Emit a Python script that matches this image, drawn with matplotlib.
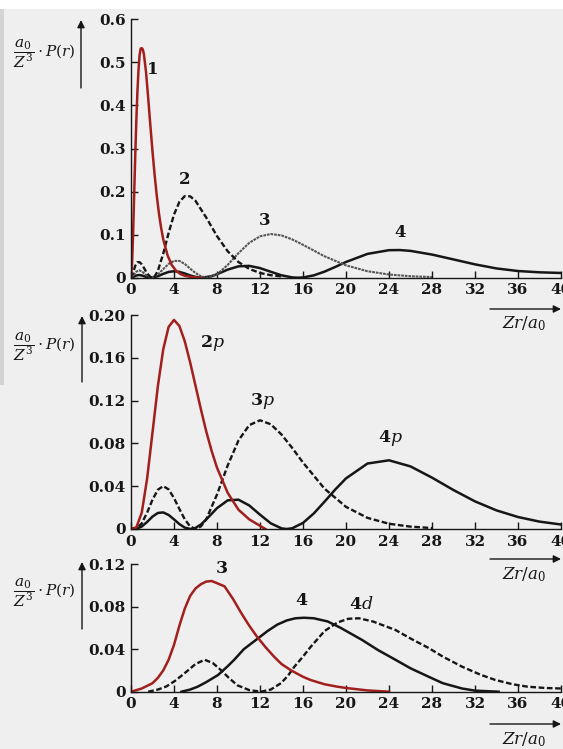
import matplotlib
matplotlib.use("Agg")
import matplotlib.pyplot as plt
from matplotlib.patches import Rectangle

plt.rcParams['font.family'] = ['DejaVu Serif']
plt.rcParams['mathtext.fontset'] = 'dejavuserif'

# ---- data (Zr/a0, a0/Z^3 * P(r)) ----
x_ticks = [0, 4, 8, 12, 16, 20, 24, 28, 32, 36, 40]

# top panel: s states
r_1s = [0, 0.1, 0.2, 0.3, 0.4, 0.5, 0.6, 0.7, 0.8, 0.9, 1.0, 1.1, 1.2, 1.4, 1.6, 1.8,
        2.0, 2.2, 2.4, 2.6, 2.8, 3.0, 3.4, 3.8, 4.2, 4.6, 5.0, 5.6, 6.5]
p_1s = [0, 0.033, 0.107, 0.198, 0.288, 0.368, 0.434, 0.483, 0.517, 0.532, 0.533, 0.530,
        0.519, 0.477, 0.417, 0.354, 0.293, 0.238, 0.190, 0.149, 0.116, 0.089, 0.052,
        0.029, 0.016, 0.0085, 0.0045, 0.0017, 0.0]

r_2s = [0, 0.2, 0.4, 0.6, 0.8, 1.0, 1.2, 1.4, 1.6, 1.8, 2.0, 2.2, 2.5, 3.0, 3.5, 4.0,
        4.5, 5.0, 5.5, 6.0, 7.0, 8.0, 9.0, 10, 11, 12, 13, 14]
p_2s = [0, 0.012, 0.028, 0.036, 0.036, 0.031, 0.023, 0.014, 0.007, 0.002, 0, 0.0027,
        0.016, 0.056, 0.104, 0.1465, 0.176, 0.1895, 0.189, 0.1785, 0.1396, 0.0966,
        0.0612, 0.0363, 0.0205, 0.011, 0.0058, 0.0029]

r_3s = [0, 0.25, 0.5, 0.75, 1.0, 1.25, 1.5, 1.9, 2.5, 3.0, 3.5, 4.0, 4.5, 5.0, 5.5, 6.0,
        6.5, 7.1, 8, 9, 10, 11, 12, 13, 14, 15, 16, 18, 20, 22, 24, 26, 28]
p_3s = [0, 0.006, 0.014, 0.017, 0.015, 0.0095, 0.004, 0, 0.0073, 0.020, 0.032, 0.039,
        0.039, 0.032, 0.021, 0.011, 0.0034, 0, 0.0076, 0.0298, 0.0571, 0.0809, 0.0961,
        0.1014, 0.0982, 0.0889, 0.0764, 0.0498, 0.0287, 0.015, 0.0074, 0.0034, 0.0015]

r_4s = [0, 0.25, 0.5, 0.75, 1.0, 1.25, 1.5, 1.87, 2.5, 3.0, 3.5, 4.0, 4.5, 5.0, 5.5, 6.0,
        6.6, 7.5, 8, 9, 10, 11, 12, 13, 14, 15, 15.5, 16, 17, 18, 19, 20, 22, 24, 25, 26,
        28, 30, 32, 34, 36, 38, 40]
p_4s = [0, 0.0023, 0.0052, 0.0062, 0.0052, 0.0032, 0.0013, 0, 0.0034, 0.0089, 0.0134,
        0.015, 0.0135, 0.0098, 0.0053, 0.0018, 0, 0.0036, 0.0081, 0.0188, 0.0264, 0.0275,
        0.0223, 0.0138, 0.0056, 0.0007, 0, 0.0006, 0.0054, 0.0141, 0.025, 0.0365, 0.0553,
        0.0639, 0.0642, 0.0623, 0.0537, 0.0424, 0.031, 0.0215, 0.0155, 0.0125, 0.011]

# middle panel: p states
r_2p = [0, 0.5, 1, 1.5, 2, 2.5, 3, 3.5, 4, 4.5, 5, 5.5, 6, 6.5, 7, 7.5, 8, 9, 10, 11, 12, 12.5]
p_2p = [0, 0.0016, 0.0153, 0.0471, 0.0902, 0.1336, 0.168, 0.1889, 0.1954, 0.1898, 0.1755,
        0.1558, 0.1339, 0.112, 0.0912, 0.073, 0.0573, 0.0337, 0.0180, 0.009, 0.003, 0.0]

r_3p = [0, 0.5, 1, 1.5, 2, 2.5, 3, 3.5, 4, 4.5, 5, 5.5, 6, 6.5, 7, 8, 9, 10, 11, 12, 13,
        14, 15, 16, 18, 20, 22, 24, 26, 28]
p_3p = [0, 0.0006, 0.0052, 0.0153, 0.0274, 0.0367, 0.0401, 0.037, 0.0289, 0.0187, 0.0091,
        0.0024, 0, 0.0024, 0.0092, 0.0322, 0.0595, 0.0828, 0.0971, 0.1016, 0.0979, 0.0883,
        0.0757, 0.0621, 0.0377, 0.0207, 0.0104, 0.0049, 0.0022, 0.0009]

r_4p = [0, 0.5, 1, 1.5, 2, 2.5, 3, 3.5, 4, 4.5, 5, 5.53, 6, 6.5, 7, 8, 9, 10, 11, 12, 13,
        14, 14.47, 15, 16, 17, 18, 19, 20, 22, 24, 26, 28, 30, 32, 34, 36, 38, 40]
p_4p = [0, 0.0002, 0.0023, 0.0066, 0.0116, 0.015, 0.0155, 0.0131, 0.009, 0.0046, 0.0013,
        0, 0.001, 0.0042, 0.0089, 0.0195, 0.0268, 0.0274, 0.022, 0.0134, 0.0053, 0.0006,
        0, 0.0007, 0.0057, 0.0145, 0.0255, 0.0369, 0.0473, 0.0612, 0.0642, 0.0585, 0.048,
        0.0364, 0.0258, 0.0174, 0.0112, 0.0069, 0.0042]

# bottom panel: d / f states
r_3d = [0, 1, 2, 2.5, 3, 3.5, 4, 4.5, 5, 5.5, 6, 6.5, 7, 7.5, 8, 8.7, 9.5, 10.25, 11,
        11.7, 12.5, 13.3, 14, 14.9, 16, 16.7, 18, 19.2, 20, 22, 24]
p_3d = [0, 0.003, 0.008, 0.013, 0.020, 0.030, 0.044, 0.062, 0.078, 0.090, 0.097, 0.101,
        0.1035, 0.104, 0.102, 0.099, 0.087, 0.074, 0.062, 0.052, 0.042, 0.033, 0.026,
        0.020, 0.014, 0.011, 0.007, 0.0047, 0.0035, 0.0012, 0]

r_4f = [4.7, 5.5, 6.2, 7, 8.1, 9, 9.6, 10.5, 11.8, 12.7, 13.6, 14.5, 15.3, 16.1, 17, 18.3,
        19.5, 21.5, 23, 24.6, 26, 27.7, 29, 30.8, 32, 34.2]
p_4f = [0, 0.002, 0.0047, 0.009, 0.0157, 0.024, 0.030, 0.040, 0.050, 0.057, 0.063, 0.067,
        0.069, 0.0695, 0.069, 0.066, 0.060, 0.0486, 0.039, 0.030, 0.022, 0.014, 0.008,
        0.003, 0.001, 0]

r_4d = [1.6, 2.5, 3.3, 4.07, 4.7, 5.3, 6.0, 6.85, 7.6, 8.4, 9.1, 9.9, 11, 12.1, 13, 13.95,
        14.6, 15.2, 16, 16.7, 17.4, 18, 19.2, 20.2, 21.2, 22.5, 24.6, 26, 27.7, 29, 30.8,
        32.5, 33.9, 35.5, 36.9, 38.5, 40]
p_4d = [0, 0.002, 0.005, 0.010, 0.015, 0.020, 0.026, 0.030, 0.027, 0.020, 0.013, 0.006,
        0.0015, 0, 0.002, 0.008, 0.015, 0.0235, 0.033, 0.042, 0.050, 0.057, 0.065, 0.0685,
        0.069, 0.066, 0.058, 0.050, 0.041, 0.033, 0.0235, 0.016, 0.011, 0.007, 0.0047,
        0.0035, 0.003]

top_yticks = [0, 0.1, 0.2, 0.3, 0.4, 0.5, 0.6]
top_ylabels = ['0', '0.1', '0.2', '0.3', '0.4', '0.5', '0.6']
mid_yticks = [0, 0.04, 0.08, 0.12, 0.16, 0.20]
mid_ylabels = ['0', '0.04', '0.08', '0.12', '0.16', '0.20']
bot_yticks = [0, 0.04, 0.08, 0.12]
bot_ylabels = ['0', '0.04', '0.08', '0.12']

RED = '#a11f1c'
INK = '#161616'
W, H = 563, 749

fig = plt.figure(figsize=(W / 100, H / 100), dpi=100, facecolor='#efefef')
fig.patches.append(Rectangle((0, 1 - 9 / H), 1, 9 / H, transform=fig.transFigure,
                             facecolor='white', edgecolor='none'))
fig.patches.append(Rectangle((0, 1 - 385 / H), 4 / W, 376 / H, transform=fig.transFigure,
                             facecolor='#d4d4d4', edgecolor='none'))


def fp(x, y):
    # picture pixel -> figure fraction
    return (x / W, 1 - y / H)


def make_axes(top, bottom, yticks, ylabels):
    ax = fig.add_axes([131 / W, 1 - bottom / H, 430 / W, (bottom - top) / H])
    ax.patch.set_alpha(0)
    for s in ['top', 'right']:
        ax.spines[s].set_visible(False)
    for s in ['left', 'bottom']:
        ax.spines[s].set_linewidth(1.0)
        ax.spines[s].set_color(INK)
    ax.set_xlim(0, 40)
    ax.set_ylim(0, yticks[-1])
    ax.set_xticks(x_ticks)
    ax.set_xticklabels([str(t) for t in x_ticks], fontweight='bold')
    ax.set_yticks(yticks)
    ax.set_yticklabels(ylabels, fontweight='bold')
    ax.tick_params(direction='in', length=5, width=1, colors=INK, labelsize=11, pad=4)
    return ax


def axis_marks(ylab_c, yarrow, xarrow_y, xlab_y):
    fig.text(*fp(*ylab_c), r'$\dfrac{a_0}{Z^3}\cdot P(r)$', fontsize=11, color=INK,
             ha='center', va='center')
    ax_x, y0, y1 = yarrow
    fig.add_artist(plt.Annotation('', xy=fp(ax_x, y1), xytext=fp(ax_x, y0),
                                  xycoords='figure fraction', textcoords='figure fraction',
                                  arrowprops=dict(arrowstyle='-|>', lw=1.0, color=INK,
                                                  mutation_scale=11, shrinkA=0, shrinkB=0)))
    fig.add_artist(plt.Annotation('', xy=fp(561, xarrow_y), xytext=fp(490, xarrow_y),
                                  xycoords='figure fraction', textcoords='figure fraction',
                                  arrowprops=dict(arrowstyle='-|>', lw=1.0, color=INK,
                                                  mutation_scale=11, shrinkA=0, shrinkB=0)))
    fig.text(*fp(524, xlab_y), r'$Zr/a_0$', fontsize=12, color=INK, ha='center', va='center')


dash = (0, (2.4, 1.1))

# top panel
ax1 = make_axes(19.3, 277.7, top_yticks, top_ylabels)
ax1.plot(r_4s, p_4s, color=INK, lw=1.8)
ax1.plot(r_3s, p_3s, color='#555555', lw=1.5, ls=(0, (1.3, 0.45)))
ax1.plot(r_2s, p_2s, color=INK, lw=1.7, ls=dash)
ax1.plot(r_1s, p_1s, color=RED, lw=1.8)
for txt, x, y in [('1', 2.05, 0.483), ('2', 5.0, 0.227), ('3', 12.45, 0.132), ('4', 25.0, 0.104)]:
    ax1.text(x, y, txt, fontsize=12, fontweight='bold', color=INK, ha='center', va='center')
axis_marks((44, 54), (81, 88, 20), 309, 324)

# middle panel
ax2 = make_axes(315, 529, mid_yticks, mid_ylabels)
ax2.plot(r_4p, p_4p, color=INK, lw=1.8)
ax2.plot(r_3p, p_3p, color=INK, lw=1.7, ls=dash)
ax2.plot(r_2p, p_2p, color=RED, lw=1.8)
for txt, x, y in [(r'$\mathbf{2}p$', 7.6, 0.174), (r'$\mathbf{3}p$', 12.2, 0.12),
                  (r'$\mathbf{4}p$', 24.1, 0.085)]:
    ax2.text(x, y, txt, fontsize=12.5, color=INK, ha='center', va='center')
axis_marks((44, 347), (82, 382, 316), 559, 575)

# bottom panel
ax3 = make_axes(564, 691.7, bot_yticks, bot_ylabels)
ax3.plot(r_4f, p_4f, color=INK, lw=1.8)
ax3.plot(r_4d, p_4d, color=INK, lw=1.7, ls=dash)
ax3.plot(r_3d, p_3d, color=RED, lw=1.8)
for txt, x, y in [(r'$\mathbf{3}$', 8.45, 0.116), (r'$\mathbf{4}$', 15.9, 0.086),
                  (r'$\mathbf{4}d$', 21.4, 0.0815)]:
    ax3.text(x, y, txt, fontsize=12.5, color=INK, ha='center', va='center')
axis_marks((44, 593), (82, 629, 562), 724, 740)

fig.savefig('out.png', dpi=100, facecolor=fig.get_facecolor())
